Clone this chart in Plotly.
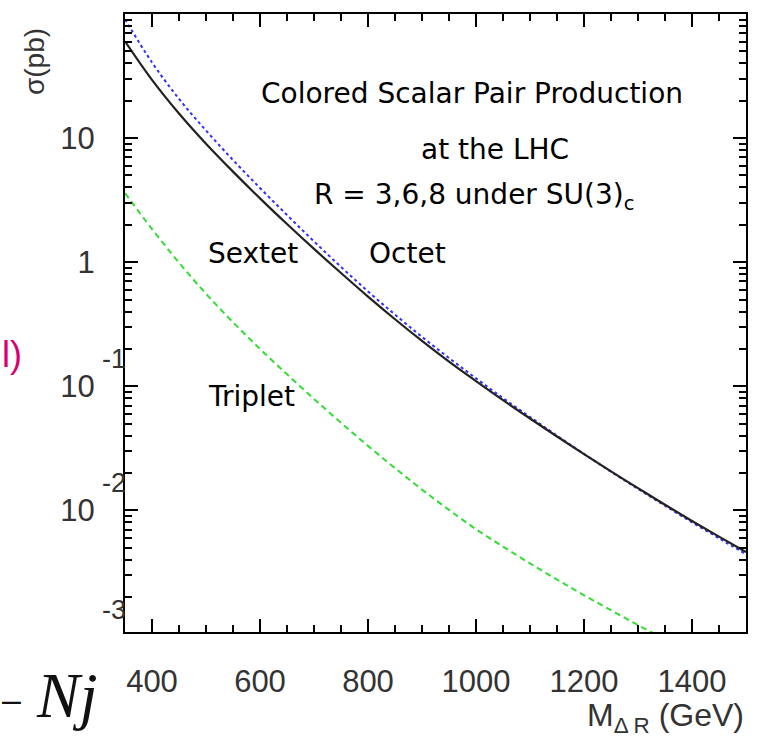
import plotly.graph_objects as go

# ---- data ----
mass = [350, 400, 450, 500, 550, 600, 650, 700, 750, 800, 850, 900, 950,
        1000, 1050, 1100, 1150, 1200, 1250, 1300, 1350, 1400, 1450, 1500]
sextet = [60.3, 29.5, 15.8, 9.02, 5.37, 3.27, 2.03, 1.28, 0.818, 0.528, 0.347,
          0.232, 0.158, 0.110, 0.0773, 0.0550, 0.0394, 0.0284, 0.0206, 0.0151,
          0.0111, 0.00822, 0.00614, 0.00461]
octet = [90.5, 40.7, 20.7, 11.5, 6.66, 3.96, 2.40, 1.47, 0.916, 0.581, 0.378,
         0.250, 0.169, 0.116, 0.0804, 0.0566, 0.0400, 0.0285, 0.0205, 0.0149,
         0.0109, 0.00801, 0.00596, 0.00443]
mass_trip = [350, 400, 450, 500, 550, 600, 650, 700, 750, 800, 850, 900, 950,
             1000, 1050, 1100, 1150, 1200, 1250, 1300, 1350]
triplet = [3.60, 1.85, 0.991, 0.557, 0.328, 0.200, 0.125, 0.0791, 0.0508,
           0.0331, 0.0219, 0.0147, 0.0101, 0.00705, 0.00511, 0.00374, 0.00277,
           0.00207, 0.00157, 0.00119, 0.000916]

x_tickvals = [400, 600, 800, 1000, 1200, 1400]
y_tickvals = [10, 1, 0.1, 0.01]
y_ticktext = ["10", "1", "10", "10"]
y_exponents = [(385, "-1"), (510, "-2"), (637, "-3")]   # pixel rows of the decades

TICKFONT = dict(family="Liberation Sans, Arial, sans-serif", size=31, color="#333333")
LABFONT = dict(family="DejaVu Sans, sans-serif", size=28, color="#000000")

fig = go.Figure()
fig.add_trace(go.Scatter(x=mass, y=octet, mode="lines", line_shape="spline",
                         line=dict(color="#2f2fff", width=2, dash="dot"),
                         name="Octet"))
fig.add_trace(go.Scatter(x=mass, y=sextet, mode="lines", line_shape="spline",
                         line=dict(color="#222222", width=2.2),
                         name="Sextet"))
fig.add_trace(go.Scatter(x=mass_trip, y=triplet, mode="lines", line_shape="spline",
                         line=dict(color="#33dd33", width=2, dash="6px,4px"),
                         name="Triplet"))

minor_y = [m * 10.0 ** e for e in range(-3, 3) for m in range(2, 10)]

fig.update_layout(
    width=760, height=739,
    margin=dict(l=125, r=13, t=12, b=107),
    paper_bgcolor="white", plot_bgcolor="white",
    showlegend=False,
    xaxis=dict(range=[350, 1500], showgrid=False, zeroline=False,
               showline=True, linecolor="black", linewidth=2, mirror="ticks",
               ticks="inside", ticklen=13, tickwidth=2, tickcolor="black",
               tickvals=x_tickvals, tickfont=TICKFONT, ticklabelstandoff=21,
               minor=dict(dtick=50, tick0=0, ticks="inside", ticklen=7,
                          tickwidth=2, tickcolor="black", showgrid=False)),
    yaxis=dict(type="log", range=[-2.98, 2.0], showgrid=False, zeroline=False,
               showline=True, linecolor="black", linewidth=2, mirror="ticks",
               ticks="inside", ticklen=13, tickwidth=2, tickcolor="black",
               tickvals=y_tickvals, ticktext=y_ticktext, tickfont=TICKFONT,
               ticklabelstandoff=22,
               minor=dict(tickvals=minor_y, ticks="inside", ticklen=7,
                          tickwidth=2, tickcolor="black", showgrid=False)),
)

def px_x(px):
    return (px - 125) / 622.0

def px_y(py):
    return (632 - py) / 620.0

ann = []
for py, txt in y_exponents:
    ann.append(dict(xref="paper", yref="paper", x=px_x(100), y=px_y(py - 27),
                    xanchor="left", yanchor="middle", text=txt, showarrow=False,
                    font=dict(family="Liberation Sans, Arial, sans-serif", size=27,
                              color="#333333")))

labels = [
    ("Colored Scalar Pair Production", 259, 92),
    ("at the LHC", 419, 148),
    ("R = 3,6,8 under SU(3)<sub>c</sub>", 312, 195),
    ("Sextet", 206, 252),
    ("Octet", 367, 252),
    ("Triplet", 206, 396),
]
for txt, lx, ly in labels:
    ann.append(dict(xref="paper", yref="paper", x=px_x(lx), y=px_y(ly),
                    xanchor="left", yanchor="middle", text=txt, showarrow=False,
                    font=LABFONT))

ann.append(dict(xref="paper", yref="paper", x=px_x(35), y=px_y(60),
                text="σ(pb)", textangle=-90, showarrow=False,
                xanchor="center", yanchor="middle",
                font=dict(family="Liberation Sans, Arial, sans-serif", size=28,
                          color="#333333")))
ann.append(dict(xref="paper", yref="paper", x=px_x(747), y=px_y(718),
                text="M<sub>Δ R</sub> (GeV)", showarrow=False,
                xanchor="right", yanchor="middle",
                font=dict(family="Liberation Sans, Arial, sans-serif", size=32,
                          color="#333333")))
ann.append(dict(xref="paper", yref="paper", x=px_x(0), y=px_y(354),
                text="l)", showarrow=False, xanchor="left", yanchor="middle",
                font=dict(family="Liberation Sans, Arial, sans-serif", size=36,
                          color="#d6006f")))
ann.append(dict(xref="paper", yref="paper", x=px_x(0), y=px_y(699),
                text="–", showarrow=False, xanchor="left", yanchor="middle",
                font=dict(family="Liberation Sans, Arial, sans-serif", size=34,
                          color="#111111")))
ann.append(dict(xref="paper", yref="paper", x=px_x(34), y=px_y(696),
                text="<i>Nj</i>", showarrow=False, xanchor="left", yanchor="middle",
                font=dict(family="Liberation Serif, serif", size=64,
                          color="#111111")))

fig.update_layout(annotations=ann)
fig.write_html("out.html")
